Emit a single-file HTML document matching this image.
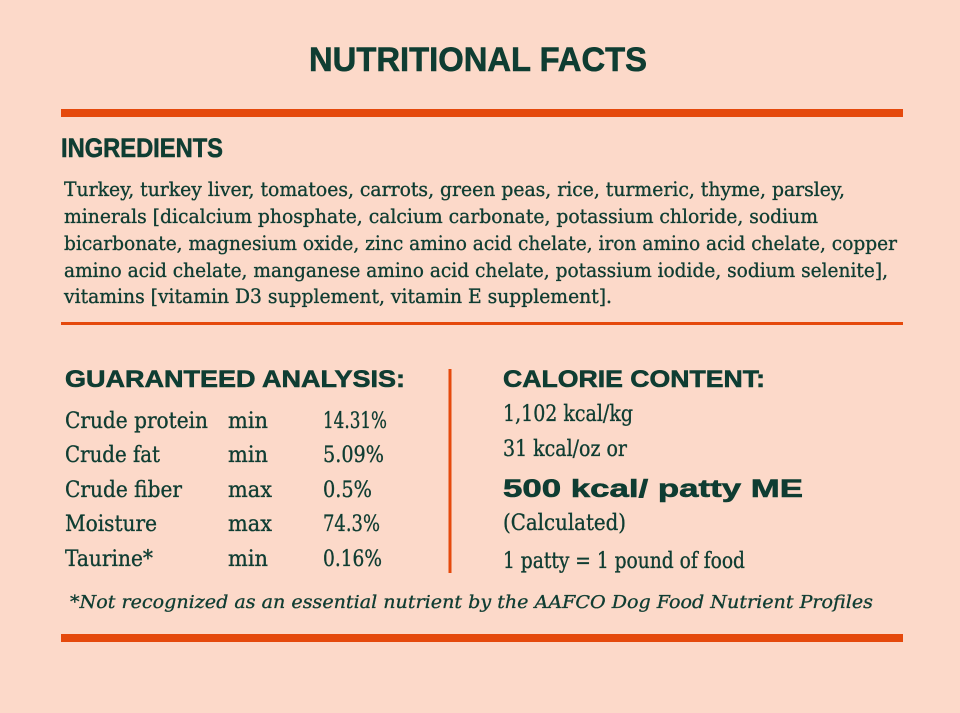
<!DOCTYPE html>
<html>
<head>
<meta charset="utf-8">
<style>
  html, body { margin: 0; padding: 0; background: #fcd9c9; }
  body { width: 960px; height: 713px; overflow: hidden; }
  svg { display: block; }
  .h { font-family: "Liberation Sans", "DejaVu Sans", sans-serif; font-weight: bold; fill: #0f3d32; stroke: #0f3d32; stroke-width: 0.6; }
  .s { font-family: "DejaVu Serif", "Liberation Serif", serif; fill: #0f3d32; stroke: #0f3d32; stroke-width: 0.35; }
  .i { font-family: "DejaVu Serif", "Liberation Serif", serif; font-style: italic; fill: #0f3d32; stroke: #0f3d32; stroke-width: 0.3; }
</style>
</head>
<body>
<svg width="960" height="713" viewBox="0 0 960 713" xmlns="http://www.w3.org/2000/svg">
  <rect x="0" y="0" width="960" height="713" fill="#fcd9c9"/>

  <!-- Title -->
  <text class="h" x="309" y="71" font-size="34" textLength="338" lengthAdjust="spacingAndGlyphs">NUTRITIONAL FACTS</text>

  <!-- Top bar -->
  <rect x="61" y="109" width="842" height="8" fill="#e5490c"/>

  <!-- Ingredients heading -->
  <text class="h" x="61" y="157" font-size="27" textLength="162" lengthAdjust="spacingAndGlyphs">INGREDIENTS</text>

  <!-- Ingredients text -->
  <g class="s" font-size="20">
    <text x="64" y="196" textLength="781" lengthAdjust="spacingAndGlyphs">Turkey, turkey liver, tomatoes, carrots, green peas, rice, turmeric, thyme, parsley,</text>
    <text x="64" y="223" textLength="754" lengthAdjust="spacingAndGlyphs">minerals [dicalcium phosphate, calcium carbonate, potassium chloride, sodium</text>
    <text x="64" y="250" textLength="833" lengthAdjust="spacingAndGlyphs">bicarbonate, magnesium oxide, zinc amino acid chelate, iron amino acid chelate, copper</text>
    <text x="64" y="277" textLength="824" lengthAdjust="spacingAndGlyphs">amino acid chelate, manganese amino acid chelate, potassium iodide, sodium selenite],</text>
    <text x="64" y="303" textLength="548" lengthAdjust="spacingAndGlyphs">vitamins [vitamin D3 supplement, vitamin E supplement].</text>
  </g>

  <!-- Thin rule -->
  <rect x="61" y="322" width="842" height="3" fill="#e5490c"/>

  <!-- Guaranteed analysis -->
  <text class="h" x="65" y="387" font-size="24" textLength="340" lengthAdjust="spacingAndGlyphs">GUARANTEED ANALYSIS:</text>

  <g class="s" font-size="22">
    <text x="65" y="428" textLength="143" lengthAdjust="spacingAndGlyphs">Crude protein</text>
    <text x="228" y="428" textLength="40" lengthAdjust="spacingAndGlyphs">min</text>
    <text x="323" y="428" textLength="64" lengthAdjust="spacingAndGlyphs">14.31%</text>

    <text x="65" y="462" textLength="95" lengthAdjust="spacingAndGlyphs">Crude fat</text>
    <text x="228" y="462" textLength="40" lengthAdjust="spacingAndGlyphs">min</text>
    <text x="323" y="462" textLength="61" lengthAdjust="spacingAndGlyphs">5.09%</text>

    <text x="65" y="497" textLength="117" lengthAdjust="spacingAndGlyphs">Crude fiber</text>
    <text x="228" y="497" textLength="44" lengthAdjust="spacingAndGlyphs">max</text>
    <text x="323" y="497" textLength="49" lengthAdjust="spacingAndGlyphs">0.5%</text>

    <text x="65" y="531" textLength="92" lengthAdjust="spacingAndGlyphs">Moisture</text>
    <text x="228" y="531" textLength="44" lengthAdjust="spacingAndGlyphs">max</text>
    <text x="323" y="531" textLength="57" lengthAdjust="spacingAndGlyphs">74.3%</text>

    <text x="65" y="566" textLength="88" lengthAdjust="spacingAndGlyphs">Taurine*</text>
    <text x="228" y="566" textLength="40" lengthAdjust="spacingAndGlyphs">min</text>
    <text x="323" y="566" textLength="59" lengthAdjust="spacingAndGlyphs">0.16%</text>
  </g>

  <!-- Vertical divider -->
  <rect x="448.5" y="369" width="3" height="204" fill="#e5490c"/>

  <!-- Calorie content -->
  <text class="h" x="503" y="387" font-size="24" textLength="262" lengthAdjust="spacingAndGlyphs">CALORIE CONTENT:</text>

  <g class="s" font-size="22">
    <text x="503" y="421" textLength="130" lengthAdjust="spacingAndGlyphs">1,102 kcal/kg</text>
    <text x="503" y="456" textLength="124" lengthAdjust="spacingAndGlyphs">31 kcal/oz or</text>
    <text x="503" y="530" textLength="123" lengthAdjust="spacingAndGlyphs">(Calculated)</text>
    <text x="503" y="568" textLength="242" lengthAdjust="spacingAndGlyphs">1 patty = 1 pound of food</text>
  </g>
  <text class="h" x="503" y="497" font-size="25" textLength="300" lengthAdjust="spacingAndGlyphs">500 kcal/ patty ME</text>

  <!-- Footnote -->
  <text class="i" x="70" y="608" font-size="17.5" textLength="803" lengthAdjust="spacingAndGlyphs">*Not recognized as an essential nutrient by the AAFCO Dog Food Nutrient Profiles</text>

  <!-- Bottom bar -->
  <rect x="61" y="634" width="842" height="8" fill="#e5490c"/>
</svg>
</body>
</html>
